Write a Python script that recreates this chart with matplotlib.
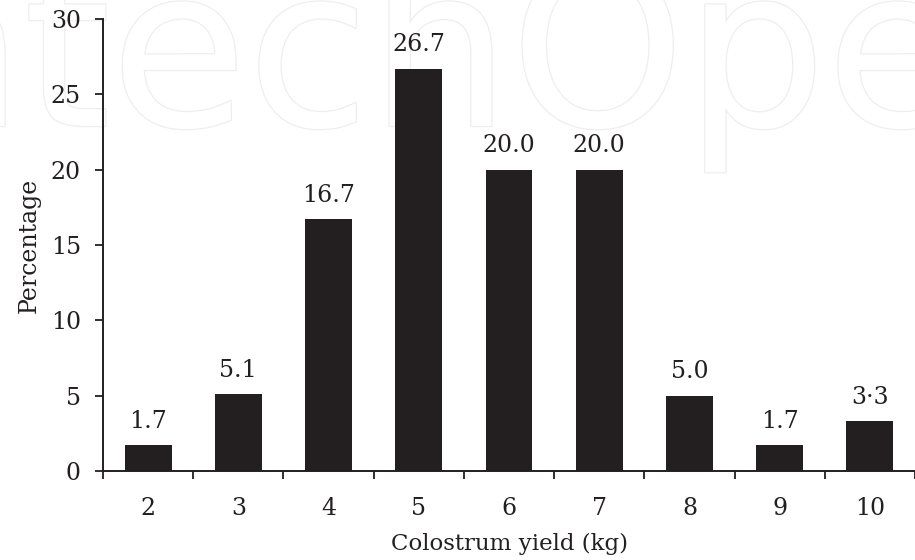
import matplotlib
matplotlib.use('Agg')
import matplotlib.pyplot as plt
import matplotlib.patheffects as pe
import numpy as np

# -------------------------- data --------------------------
yield_kg = ['2', '3', '4', '5', '6', '7', '8', '9', '10']
percentage = [1.7, 5.1, 16.7, 26.7, 20.0, 20.0, 5.0, 1.7, 3.3]
bar_labels = ['1.7', '5.1', '16.7', '26.7', '20.0', '20.0', '5.0', '1.7', '3·3']

plt.rcParams['font.family'] = ['DejaVu Serif']
ink = '#231f20'

fig = plt.figure(figsize=(9.15, 5.6), dpi=100)

# faint watermark behind the chart
fig.text(-0.2, 0.775, 'IntechOpen', fontsize=160, family='DejaVu Sans',
         color='white', zorder=-1,
         path_effects=[pe.withStroke(linewidth=1.8, foreground='#eeeeee')])

ax = fig.add_axes([0.1126, 0.159, 0.8874, 0.807])
ax.patch.set_alpha(0)

x = np.arange(len(yield_kg))
ax.bar(x, percentage, width=0.52, color=ink, zorder=3)

for xi, v, lab in zip(x, percentage, bar_labels):
    ax.annotate(lab, (xi, v), xytext=(0, 9), textcoords='offset points',
                ha='center', va='bottom', fontsize=17, color=ink)

ax.set_xlim(-0.5, 8.326)
ax.set_ylim(0, 30)

ax.set_yticks(np.arange(0, 31, 5))
ax.tick_params(axis='y', direction='out', length=6, width=1.3, labelsize=17,
               colors=ink, pad=10)

ax.set_xticks(x)
ax.set_xticklabels(yield_kg)
ax.tick_params(axis='x', which='major', length=0, labelsize=17,
               colors=ink, pad=19)
ax.set_xticks(np.arange(-0.5, 9, 1), minor=True)
ax.tick_params(axis='x', which='minor', direction='out', length=6, width=1.3,
               colors=ink)

for s in ['top', 'right']:
    ax.spines[s].set_visible(False)
for s in ['left', 'bottom']:
    ax.spines[s].set_linewidth(1.4)
    ax.spines[s].set_color(ink)

ax.set_xlabel('Colostrum yield (kg)', fontsize=16.5, color=ink, labelpad=9)
ax.set_ylabel('Percentage', fontsize=17, color=ink, labelpad=7)

fig.savefig('out.png', dpi=100)
